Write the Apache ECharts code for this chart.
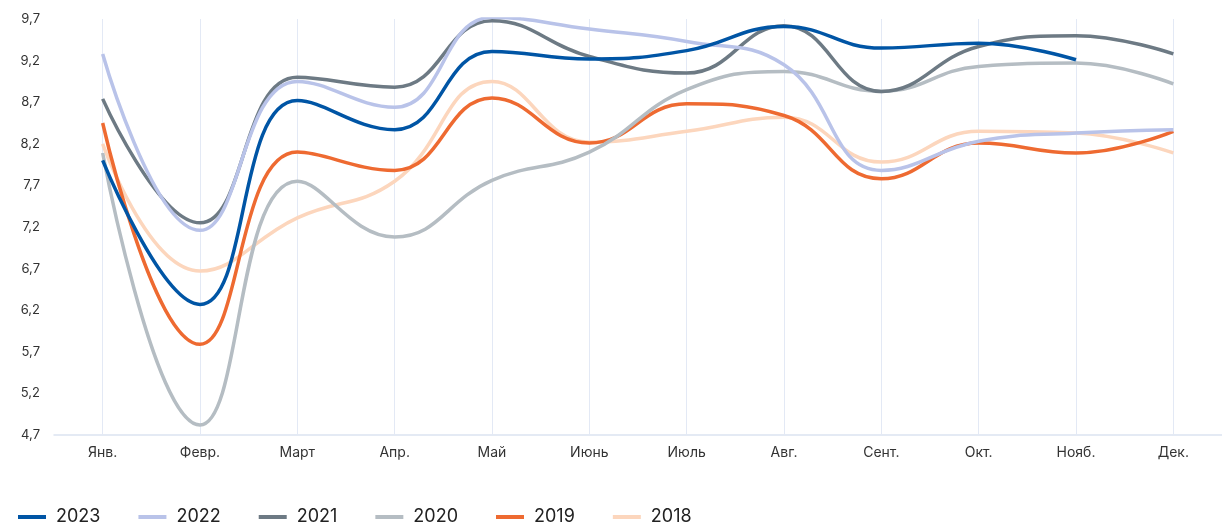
<!DOCTYPE html>
<html>
<head>
<meta charset="utf-8">
<script src="https://cdn.jsdelivr.net/npm/echarts@6/dist/echarts.min.js"></script>
<style>
  html, body { margin: 0; padding: 0; background: #fff; }
  #main { width: 1222px; height: 526px; }
</style>
</head>
<body>
<div id="main"></div>
<script>
const months = ['Янв.', 'Февр.', 'Март', 'Апр.', 'Май', 'Июнь', 'Июль', 'Авг.', 'Сент.', 'Окт.', 'Нояб.', 'Дек.'];
const years = ['2023', '2022', '2021', '2020', '2019', '2018'];

const y2023 = [8.0, 6.27, 8.72, 8.37, 9.31, 9.22, 9.32, 9.61, 9.35, 9.41, 9.21, null];
const y2022 = [9.28, 7.16, 8.95, 8.64, 9.72, 9.58, 9.43, 9.15, 7.88, 8.23, 8.33, 8.37];
const y2021 = [8.74, 7.25, 9.0, 8.88, 9.68, 9.25, 9.05, 9.62, 8.83, 9.37, 9.50, 9.28];
const y2020 = [8.09, 4.82, 7.75, 7.08, 7.76, 8.10, 8.85, 9.07, 8.83, 9.13, 9.17, 8.92];
const y2019 = [8.45, 5.79, 8.1, 7.88, 8.75, 8.21, 8.68, 8.54, 7.78, 8.21, 8.09, 8.35];
const y2018 = [8.2, 6.67, 7.31, 7.75, 8.95, 8.22, 8.35, 8.52, 7.98, 8.35, 8.33, 8.09];

const yTicks = { min: 4.7, max: 9.7, step: 0.5 };
const colors = ['#0055a5', '#b9c3e9', '#6d7a84', '#b5bdc3', '#ee6a31', '#fcd6bd'];
const seriesData = [y2023, y2022, y2021, y2020, y2019, y2018];

const chart = echarts.init(document.getElementById('main'));

const series = years.map((name, i) => {
    return {
        name,
        type: 'line',
        smooth: 0.45,
        symbol: 'none',
        data: seriesData[i],
        lineStyle: { width: 3.5, color: colors[i] },
        itemStyle: { color: colors[i] },
        z: 10 - i
    };
});

// vertical grid lines through each month
series.push({
    name: 'grid',
    type: 'line',
    data: [],
    silent: true,
    markLine: {
        silent: true,
        symbol: 'none',
        label: { show: false },
        lineStyle: { color: '#e3e9f5', width: 1, type: 'solid' },
        data: months.map(m => ({ xAxis: m }))
    },
    z: 1
});

const option = {
    animation: false,
    backgroundColor: '#fff',
    grid: { left: 54, right: 0, top: 19, bottom: 91 },
    legend: {
        data: years,
        left: 18,
        bottom: 0,
        padding: 0,
        itemWidth: 28,
        itemHeight: 4,
        itemGap: 38,
        icon: 'rect',
        textStyle: { fontFamily: 'Inter', fontSize: 18, color: '#222', padding: [0, 0, 0, 5] }
    },
    xAxis: {
        type: 'category',
        data: months,
        boundaryGap: true,
        axisLine: { lineStyle: { color: '#dce3f1', width: 1.5 } },
        axisTick: { show: false },
        axisLabel: { fontFamily: 'Inter', fontSize: 14, color: '#333', margin: 11 },
        splitLine: { show: false }
    },
    yAxis: {
        type: 'value',
        min: yTicks.min,
        max: yTicks.max,
        interval: yTicks.step,
        axisLine: { show: false },
        axisTick: { show: false },
        splitLine: { show: false },
        axisLabel: {
            fontFamily: 'Inter',
            fontSize: 13,
            color: '#333',
            margin: 14,
            formatter: v => v.toFixed(1).replace('.', ',')
        }
    },
    series
};

chart.setOption(option);
</script>
</body>
</html>
